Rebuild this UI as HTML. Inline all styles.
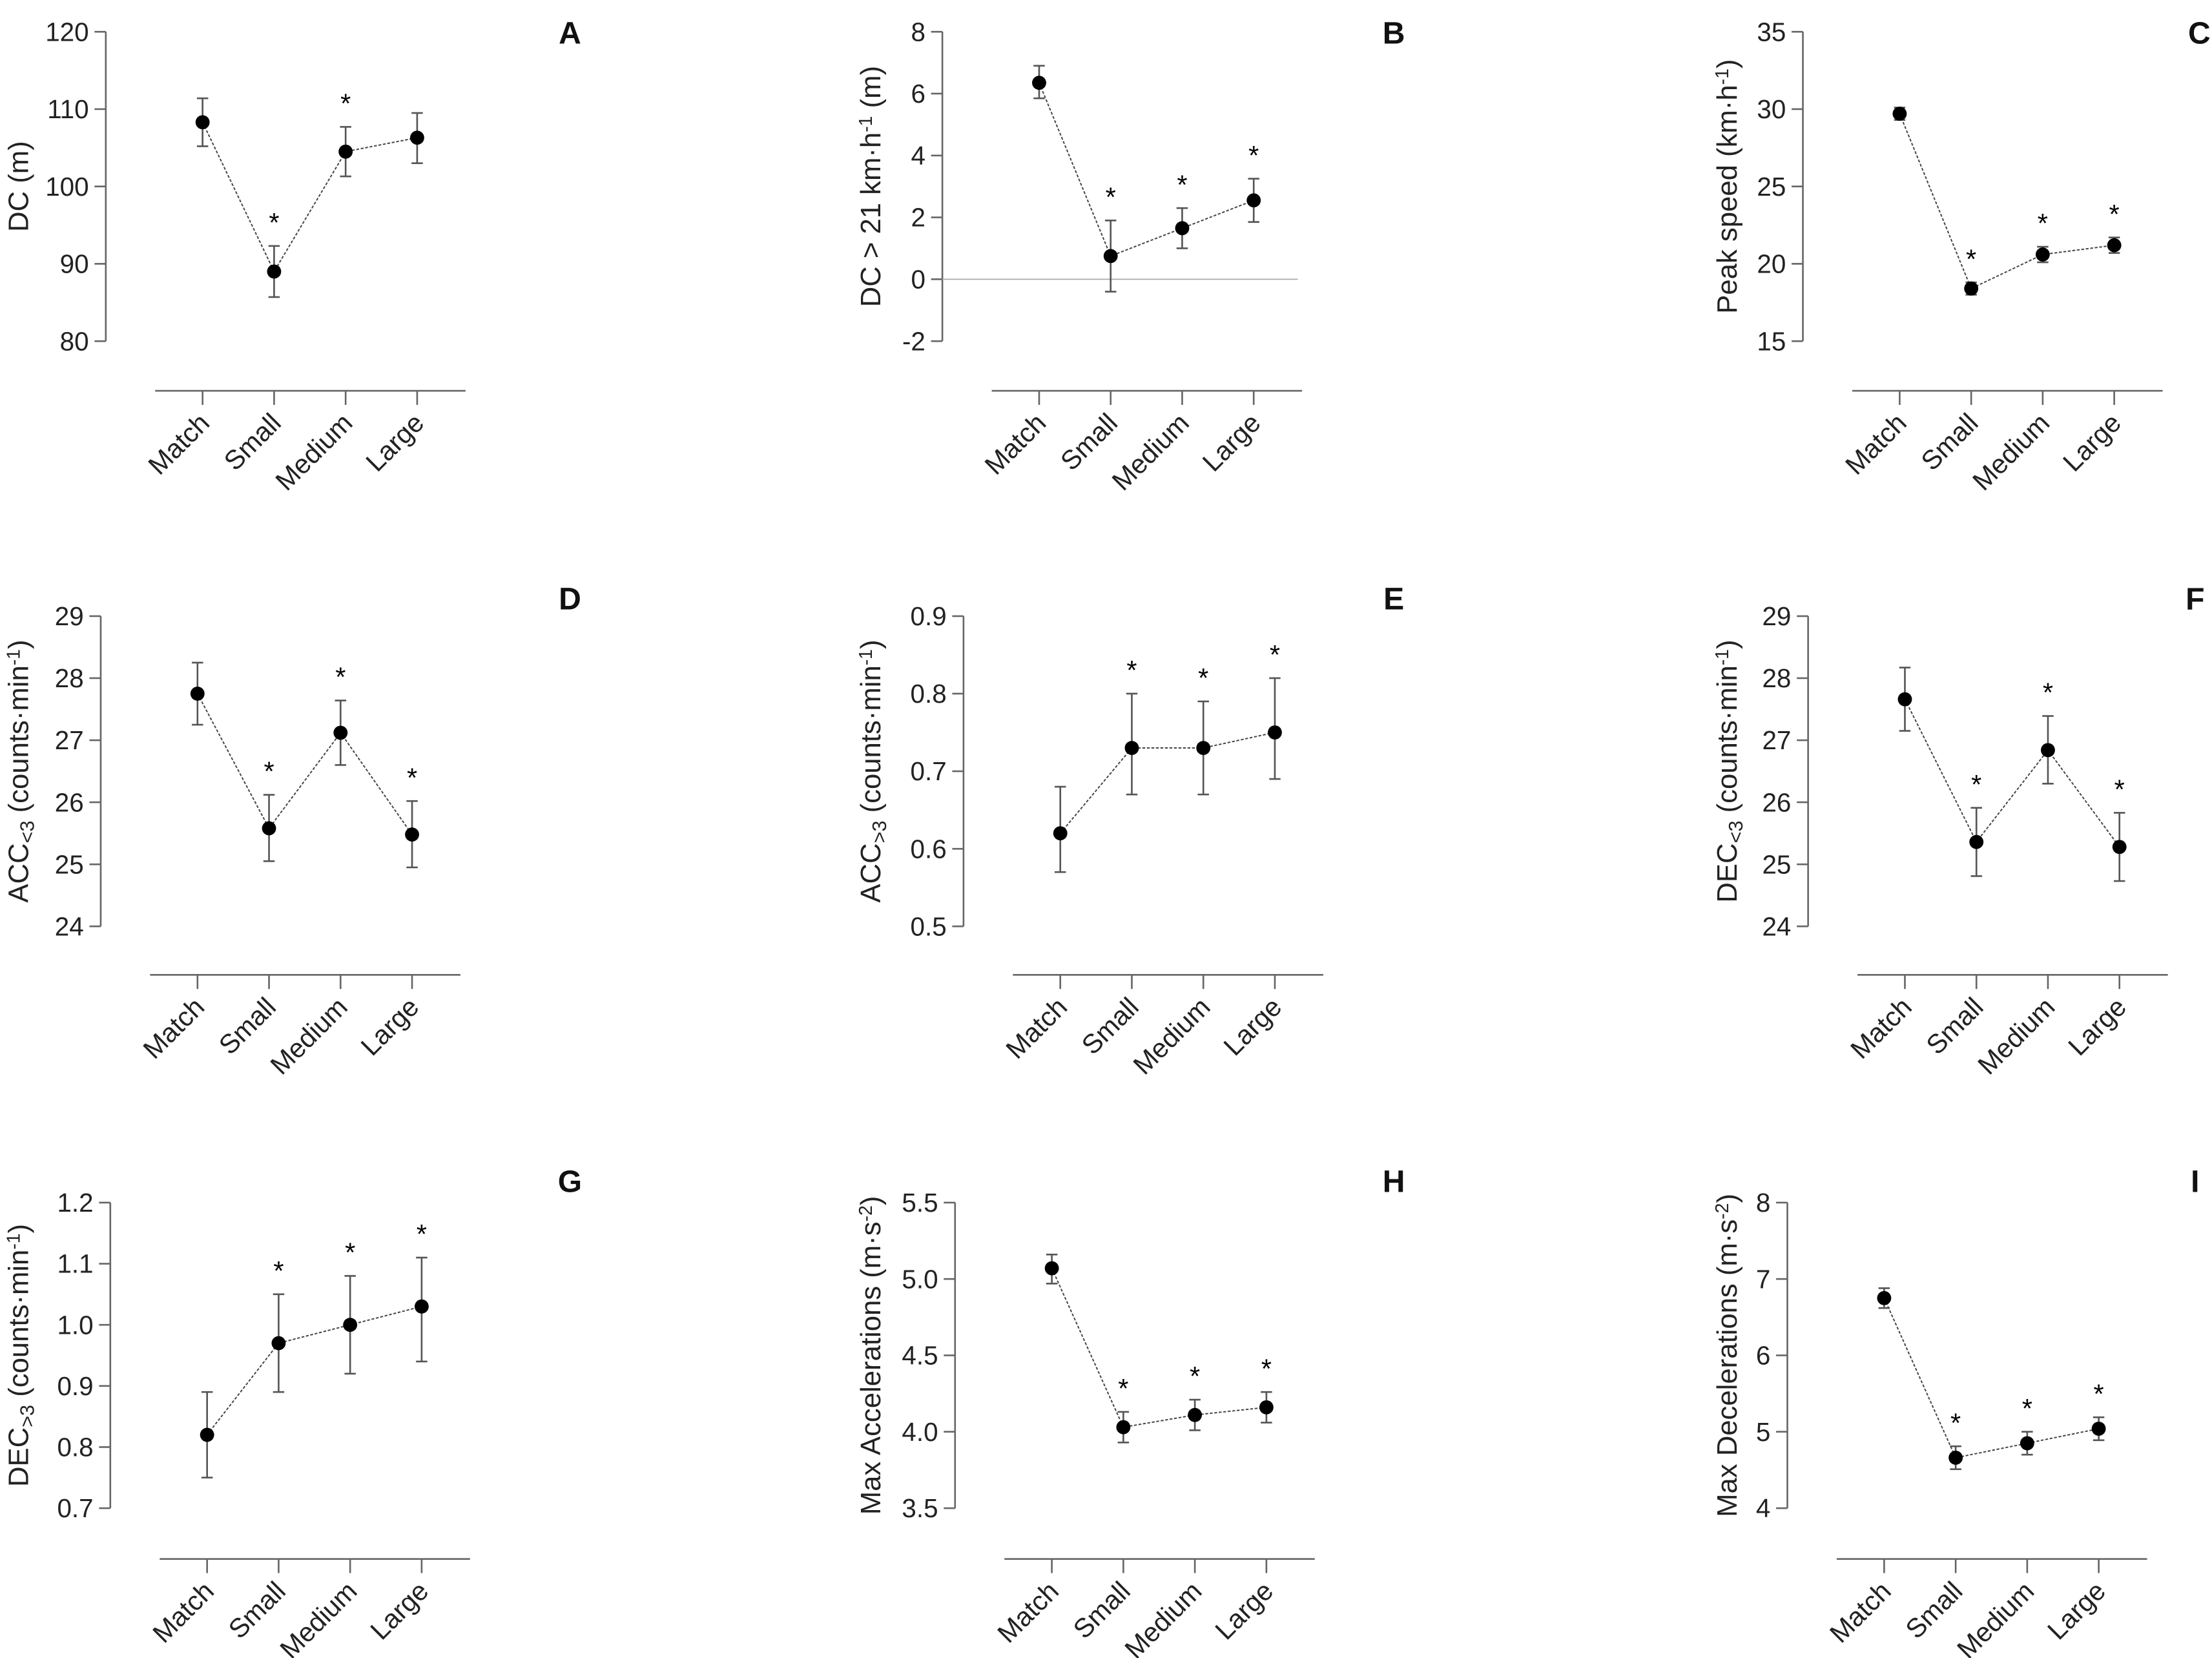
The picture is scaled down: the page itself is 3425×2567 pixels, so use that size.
<!DOCTYPE html>
<html><head><meta charset="utf-8"><style>
html,body{margin:0;padding:0;background:#fff;}
svg{display:block;font-family:"Liberation Sans",Arial,sans-serif;}
</style></head><body>
<svg id="fig" width="3425" height="2567" viewBox="0 0 1568 1175.2" preserveAspectRatio="none" xmlns="http://www.w3.org/2000/svg"></svg>
<script>
const categories = ["Match","Small","Medium","Large"];
const meanA = [108.3, 89.0, 104.5, 106.3];
const loA = [105.2, 85.7, 101.3, 103.0];
const hiA = [111.4, 92.3, 107.7, 109.5];
const starA = [false, true, true, false];
const meanB = [6.35, 0.75, 1.65, 2.55];
const loB = [5.85, -0.4, 1.0, 1.85];
const hiB = [6.9, 1.9, 2.3, 3.25];
const starB = [false, true, true, true];
const meanC = [29.7, 18.4, 20.6, 21.2];
const loC = [29.3, 18.0, 20.1, 20.7];
const hiC = [30.1, 18.8, 21.1, 21.7];
const starC = [false, true, true, true];
const meanD = [27.75, 25.58, 27.12, 25.48];
const loD = [27.25, 25.05, 26.6, 24.95];
const hiD = [28.25, 26.12, 27.64, 26.02];
const starD = [false, true, true, true];
const meanE = [0.62, 0.73, 0.73, 0.75];
const loE = [0.57, 0.67, 0.67, 0.69];
const hiE = [0.68, 0.80, 0.79, 0.82];
const starE = [false, true, true, true];
const meanF = [27.66, 25.36, 26.84, 25.28];
const loF = [27.15, 24.81, 26.3, 24.73];
const hiF = [28.17, 25.91, 27.39, 25.83];
const starF = [false, true, true, true];
const meanG = [0.82, 0.97, 1.00, 1.03];
const loG = [0.75, 0.89, 0.92, 0.94];
const hiG = [0.89, 1.05, 1.08, 1.11];
const starG = [false, true, true, true];
const meanH = [5.07, 4.03, 4.11, 4.16];
const loH = [4.97, 3.93, 4.01, 4.06];
const hiH = [5.16, 4.13, 4.21, 4.26];
const starH = [false, true, true, true];
const meanI = [6.75, 4.66, 4.85, 5.04];
const loI = [6.62, 4.51, 4.70, 4.89];
const hiI = [6.88, 4.81, 5.00, 5.19];
const starI = [false, true, true, true];
const ticksA = ["80","90","100","110","120"];
const ticksB = ["-2","0","2","4","6","8"];
const ticksC = ["15","20","25","30","35"];
const ticksD = ["24","25","26","27","28","29"];
const ticksE = ["0.5","0.6","0.7","0.8","0.9"];
const ticksF = ["24","25","26","27","28","29"];
const ticksG = ["0.7","0.8","0.9","1.0","1.1","1.2"];
const ticksH = ["3.5","4.0","4.5","5.0","5.5"];
const ticksI = ["4","5","6","7","8"];

const NS = "http://www.w3.org/2000/svg";
const svg = document.getElementById("fig");
function mk(tag, attrs, parent){
  const e = document.createElementNS(NS, tag);
  for (const k in attrs) e.setAttribute(k, attrs[k]);
  (parent||svg).appendChild(e);
  return e;
}
const panels = [
 {id:"a", letter:"A", mean:meanA, lo:loA, hi:hiA, star:starA, ticks:ticksA, ax:75, yt:22.5, yb:241.8, xa:277, lx:404, ly:31, labx:20, label:[["DC (m)",""]]},
 {id:"b", letter:"B", mean:meanB, lo:loB, hi:hiB, star:starB, ticks:ticksB, ax:668, yt:22.5, yb:241.8, xa:277, lx:988, ly:31, labx:624, zero:true, label:[["DC > 21 km·h",""],["-1","sup"],[" (m)",""]]},
 {id:"c", letter:"C", mean:meanC, lo:loC, hi:hiC, star:starC, ticks:ticksC, ax:1278, yt:22.5, yb:241.8, xa:277, lx:1559, ly:31, labx:1231, label:[["Peak speed (km·h",""],["-1","sup"],[")",""]]},
 {id:"d", letter:"D", mean:meanD, lo:loD, hi:hiD, star:starD, ticks:ticksD, ax:71.4, yt:436.7, yb:656.6, xa:691, lx:404, ly:432, labx:20, label:[["ACC",""],["<3","sub"],[" (counts·min",""],["-1","sup"],[")",""]]},
 {id:"e", letter:"E", mean:meanE, lo:loE, hi:hiE, star:starE, ticks:ticksE, ax:683, yt:436.7, yb:656.6, xa:691, lx:988, ly:432, labx:624, label:[["ACC",""],[">3","sub"],[" (counts·min",""],["-1","sup"],[")",""]]},
 {id:"f", letter:"F", mean:meanF, lo:loF, hi:hiF, star:starF, ticks:ticksF, ax:1281.7, yt:436.7, yb:656.6, xa:691, lx:1556, ly:432, labx:1231, label:[["DEC",""],["<3","sub"],[" (counts·min",""],["-1","sup"],[")",""]]},
 {id:"g", letter:"G", mean:meanG, lo:loG, hi:hiG, star:starG, ticks:ticksG, ax:78.2, yt:852.4, yb:1069, xa:1105, lx:404, ly:845, labx:20, label:[["DEC",""],[">3","sub"],[" (counts·min",""],["-1","sup"],[")",""]]},
 {id:"h", letter:"H", mean:meanH, lo:loH, hi:hiH, star:starH, ticks:ticksH, ax:677, yt:852.4, yb:1069, xa:1105, lx:988, ly:845, labx:624, label:[["Max Accelerations (m·s",""],["-2","sup"],[")",""]]},
 {id:"i", letter:"I", mean:meanI, lo:loI, hi:hiI, star:starI, ticks:ticksI, ax:1267, yt:852.4, yb:1069, xa:1105, lx:1556, ly:845, labx:1231, label:[["Max Decelerations (m·s",""],["-2","sup"],[")",""]]}
];
panels.forEach(p => {
  const g = mk("g", {});
  
  
  const vmin = parseFloat(p.ticks[0]), vmax = parseFloat(p.ticks[p.ticks.length-1]);
  const y = v => p.yb - (v - vmin) / (vmax - vmin) * (p.yb - p.yt);
  const x = i => p.ax + 68.6 + i * 50.7;
  const ya = mk("line", {x1:p.ax, y1:p.yt, x2:p.ax, y2:p.yb, stroke:"#666", "stroke-width":1.2}, g);
  
  
  p.ticks.forEach(t => {
    const v = parseFloat(t), yy = y(v);
    mk("line", {x1:p.ax-8, y1:yy, x2:p.ax, y2:yy, stroke:"#666", "stroke-width":1.2}, g);
    const tl = mk("text", {x:p.ax-12, y:yy+6.5, "text-anchor":"end", "font-size":18.5, fill:"#222"}, g);
    tl.textContent = t;
    
    
  });
  if (p.zero) {
    const zl = mk("line", {x1:p.ax, y1:y(0), x2:p.ax+252, y2:y(0), stroke:"#aaa", "stroke-width":0.8}, g);
    
    
  }
  const xl = mk("line", {x1:p.ax+35, y1:p.xa, x2:p.ax+255, y2:p.xa, stroke:"#666", "stroke-width":1.2}, g);
  
  
  categories.forEach((c, i) => {
    mk("line", {x1:x(i), y1:p.xa, x2:x(i), y2:p.xa+10, stroke:"#666", "stroke-width":1.2}, g);
    const ct = mk("text", {x:x(i)+6, y:p.xa+24, "text-anchor":"end", "font-size":19, fill:"#222", transform:`rotate(-45 ${x(i)+6} ${p.xa+24})`}, g);
    ct.textContent = c;
    
    
  });
  const pts = p.mean.map((m, i) => x(i) + "," + y(m)).join(" ");
  const pl = mk("polyline", {points:pts, fill:"none", stroke:"#444", "stroke-width":0.9, "stroke-dasharray":"2 1.2"}, g);
  
  
  p.mean.forEach((m, i) => {
    const eb = mk("path", {d:`M${x(i)},${y(p.lo[i])}V${y(p.hi[i])}M${x(i)-4},${y(p.lo[i])}H${x(i)+4}M${x(i)-4},${y(p.hi[i])}H${x(i)+4}`, stroke:"#555", "stroke-width":1.2, fill:"none"}, g);
    
    
    const dot = mk("circle", {cx:x(i), cy:y(m), r:5, fill:"#000"}, g);
    
    
    if (p.star[i]) {
      const st = mk("text", {x:x(i), y:y(p.hi[i]) - 10, "text-anchor":"middle", "font-size":19, fill:"#000"}, g);
      st.textContent = "*";
      
      
    }
  });
  const cy = (p.yt + p.yb) / 2;
  const lab = mk("text", {x:p.labx, y:cy, "text-anchor":"middle", "font-size":20, fill:"#222", transform:`rotate(-90 ${p.labx} ${cy})`}, g);
  
  
  p.label.forEach(([s, k]) => {
    const ts = mk("tspan", {}, lab);
    if (k === "sub") { ts.setAttribute("baseline-shift", "-30%"); ts.setAttribute("font-size", 14); }
    if (k === "sup") { ts.setAttribute("baseline-shift", "45%"); ts.setAttribute("font-size", 13); }
    ts.textContent = s;
  });
  const L = mk("text", {x:p.lx, y:p.ly, "text-anchor":"middle", "font-size":22, "font-weight":"bold", fill:"#111"}, g);
  L.textContent = p.letter;
  
  
});
</script>
</body></html>
